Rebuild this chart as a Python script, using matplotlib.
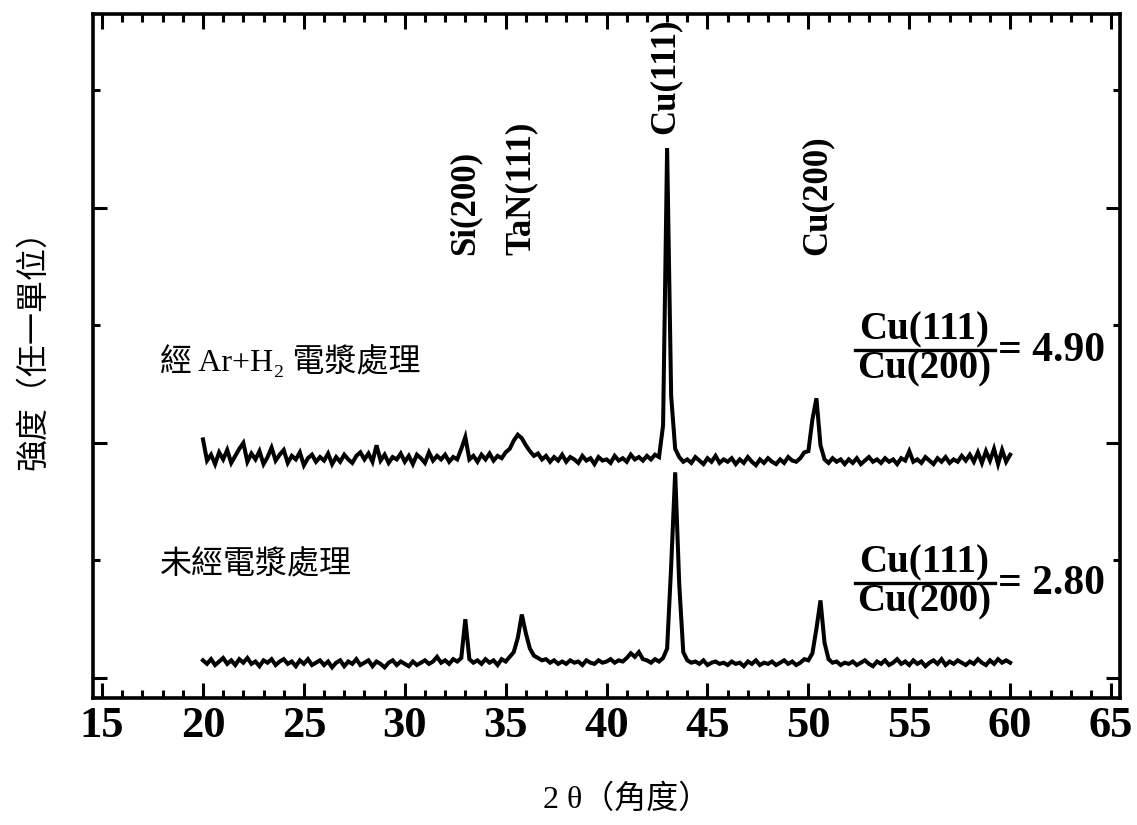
import numpy as np
import matplotlib
matplotlib.use('Agg')
import matplotlib.pyplot as plt
from matplotlib.ticker import MultipleLocator

# Latin in Times-like serif, CJK falls back to Noto
plt.rcParams['font.family'] = ['Liberation Serif', 'DejaVu Serif', 'Noto Sans CJK TC']

# 2 theta scan (degrees), 0.2 deg step
two_theta = np.round(np.arange(20.0, 60.01, 0.2), 1)

# 經 Ar+H2 電漿處理 (upper pattern), arbitrary units
int_plasma = [
    2.03, 1.85, 1.90, 1.82, 1.92, 1.86, 1.94, 1.83, 1.89, 1.95,
    2.00, 1.84, 1.91, 1.86, 1.93, 1.82, 1.88, 1.96, 1.85, 1.90,
    1.94, 1.83, 1.89, 1.86, 1.92, 1.81, 1.87, 1.90, 1.84, 1.88,
    1.85, 1.91, 1.82, 1.88, 1.84, 1.90, 1.86, 1.83, 1.89, 1.92,
    1.86, 1.91, 1.84, 1.98, 1.85, 1.90, 1.83, 1.88, 1.86, 1.91,
    1.84, 1.89, 1.82, 1.90, 1.87, 1.83, 1.92, 1.85, 1.89, 1.86,
    1.90, 1.84, 1.88, 1.86, 1.95, 2.05, 1.86, 1.89, 1.84, 1.90,
    1.86, 1.91, 1.85, 1.89, 1.87, 1.92, 1.95, 2.02, 2.07, 2.04,
    1.98, 1.93, 1.89, 1.91, 1.86, 1.89, 1.84, 1.88, 1.85, 1.90,
    1.84, 1.88, 1.86, 1.83, 1.89, 1.85, 1.87, 1.82, 1.88, 1.85,
    1.86, 1.83, 1.89, 1.85, 1.87, 1.84, 1.90, 1.86, 1.88, 1.85,
    1.89, 1.86, 1.90, 1.88, 2.15, 4.51, 2.40, 1.95, 1.88, 1.84,
    1.86, 1.83, 1.88, 1.85, 1.82, 1.87, 1.84, 1.89, 1.83, 1.86,
    1.84, 1.87, 1.82, 1.86, 1.83, 1.88, 1.84, 1.81, 1.86, 1.83,
    1.87, 1.84, 1.82, 1.86, 1.83, 1.88, 1.85, 1.84, 1.87, 1.92,
    1.93, 2.20, 2.38, 1.98, 1.86, 1.83, 1.87, 1.84, 1.86, 1.82,
    1.86, 1.83, 1.87, 1.82, 1.85, 1.88, 1.84, 1.86, 1.83, 1.87,
    1.84, 1.86, 1.82, 1.87, 1.85, 1.93, 1.84, 1.86, 1.83, 1.88,
    1.85, 1.82, 1.87, 1.84, 1.88, 1.83, 1.86, 1.84, 1.89, 1.85,
    1.90, 1.84, 1.92, 1.83, 1.93, 1.85, 1.95, 1.82, 1.94, 1.84,
    1.90,
]

# 未經電漿處理 (lower pattern)
int_untreated = [
    0.15, 0.12, 0.16, 0.11, 0.14, 0.17, 0.12, 0.15, 0.11, 0.16,
    0.13, 0.17, 0.12, 0.14, 0.10, 0.15, 0.13, 0.16, 0.11, 0.14,
    0.16, 0.12, 0.14, 0.10, 0.15, 0.12, 0.16, 0.11, 0.13, 0.15,
    0.11, 0.14, 0.09, 0.13, 0.15, 0.10, 0.14, 0.12, 0.16, 0.11,
    0.13, 0.15, 0.10, 0.14, 0.12, 0.09, 0.13, 0.15, 0.11, 0.14,
    0.12, 0.10, 0.14, 0.11, 0.13, 0.15, 0.12, 0.14, 0.18, 0.13,
    0.15, 0.12, 0.16, 0.14, 0.17, 0.50, 0.16, 0.13, 0.15, 0.12,
    0.16, 0.13, 0.15, 0.11, 0.16, 0.14, 0.18, 0.22, 0.34, 0.54,
    0.38, 0.25, 0.19, 0.17, 0.15, 0.16, 0.13, 0.15, 0.12, 0.14,
    0.12, 0.15, 0.13, 0.14, 0.11, 0.15, 0.13, 0.12, 0.15, 0.13,
    0.14, 0.16, 0.13, 0.15, 0.14, 0.17, 0.21, 0.18, 0.22, 0.16,
    0.15, 0.13, 0.16, 0.14, 0.17, 0.25, 0.95, 1.75, 0.80, 0.22,
    0.15, 0.13, 0.14, 0.12, 0.15, 0.11, 0.13, 0.14, 0.12, 0.13,
    0.11, 0.14, 0.12, 0.13, 0.10, 0.14, 0.12, 0.15, 0.11, 0.13,
    0.12, 0.14, 0.11, 0.13, 0.15, 0.12, 0.14, 0.11, 0.13, 0.16,
    0.15, 0.21, 0.42, 0.66, 0.30, 0.16, 0.13, 0.14, 0.11, 0.13,
    0.12, 0.14, 0.11, 0.13, 0.15, 0.12, 0.10, 0.14, 0.12, 0.15,
    0.11, 0.13, 0.16, 0.12, 0.14, 0.11, 0.15, 0.12, 0.14, 0.10,
    0.13, 0.15, 0.12, 0.16, 0.11, 0.14, 0.12, 0.15, 0.13, 0.11,
    0.14, 0.12, 0.16, 0.13, 0.11, 0.15, 0.12, 0.16, 0.13, 0.15,
    0.13,
]

peak_names = ['Si(200)', 'TaN(111)', 'Cu(111)', 'Cu(200)']
peak_angles = [32.98, 35.79, 42.9, 50.41]

sample_names = ['經 Ar+H₂ 電漿處理', '未經電漿處理']
ratios = [4.90, 2.80]

x_ticks = [15, 20, 25, 30, 35, 40, 45, 50, 55, 60, 65]

fig = plt.figure(figsize=(11.37, 8.25), dpi=100)
ax = fig.add_axes([0.0818, 0.154, 0.9032, 0.829])

ax.plot(two_theta, int_plasma, color='black', lw=2.9, solid_joinstyle='miter')
ax.plot(two_theta, int_untreated, color='black', lw=2.9, solid_joinstyle='miter')

ax.set_xlim(14.55, 65.44)
ax.set_ylim(-0.17, 5.65)

# axes frame and ticks
for sp in ax.spines.values():
    sp.set_linewidth(2.6)
ax.set_xticks(x_ticks)
ax.set_xticklabels([str(t) for t in x_ticks], fontsize=32, fontweight='bold')
ax.xaxis.set_minor_locator(MultipleLocator(1))
ax.tick_params(axis='x', which='major', direction='in', length=11, width=2.2,
               top=True, pad=6)
ax.tick_params(axis='x', which='minor', direction='in', length=6, width=2.2, top=True)
ax.set_yticks([0, 2, 4])
ax.set_yticks([1, 3, 5], minor=True)
ax.tick_params(axis='y', which='major', direction='in', length=10, width=2.2,
               right=True, labelleft=False)
ax.tick_params(axis='y', which='minor', direction='in', length=5, width=2.2, right=True)

# axis titles
ax.set_xlabel('2 θ（角度）', fontsize=23, va='center')
ax.xaxis.set_label_coords(0.52, -0.149)
ax.set_ylabel('強度（任一單位）', fontsize=23, va='center')
ax.yaxis.set_label_coords(-0.058, 0.52)

# peak labels
peak_bottoms = [3.60, 3.60, 4.63, 3.60]
for name, ang, yb in zip(peak_names, peak_angles, peak_bottoms):
    ax.text(ang, yb, name, rotation=90, ha='center', va='bottom',
            fontsize=25, fontweight='bold')

# sample names
ax.text(17.87, 2.69, sample_names[0], fontsize=23, ha='left', va='center')
ax.text(17.87, 0.96, sample_names[1], fontsize=23, ha='left', va='center')

# Cu(111)/Cu(200) intensity ratios
ratio_y = [2.79, 0.81]
for r, yc in zip(ratios, ratio_y):
    ax.text(55.75, yc + 0.17, 'Cu(111)', fontsize=28, fontweight='bold',
            ha='center', va='center')
    ax.text(55.75, yc - 0.16, 'Cu(200)', fontsize=28, fontweight='bold',
            ha='center', va='center')
    ax.plot([52.3, 59.25], [yc, yc], color='black', lw=2.4, clip_on=False)
    ax.text(59.4, yc - 0.01, '= %.2f' % r, fontsize=30, fontweight='bold',
            ha='left', va='center')

fig.savefig('out.png', dpi=100)
